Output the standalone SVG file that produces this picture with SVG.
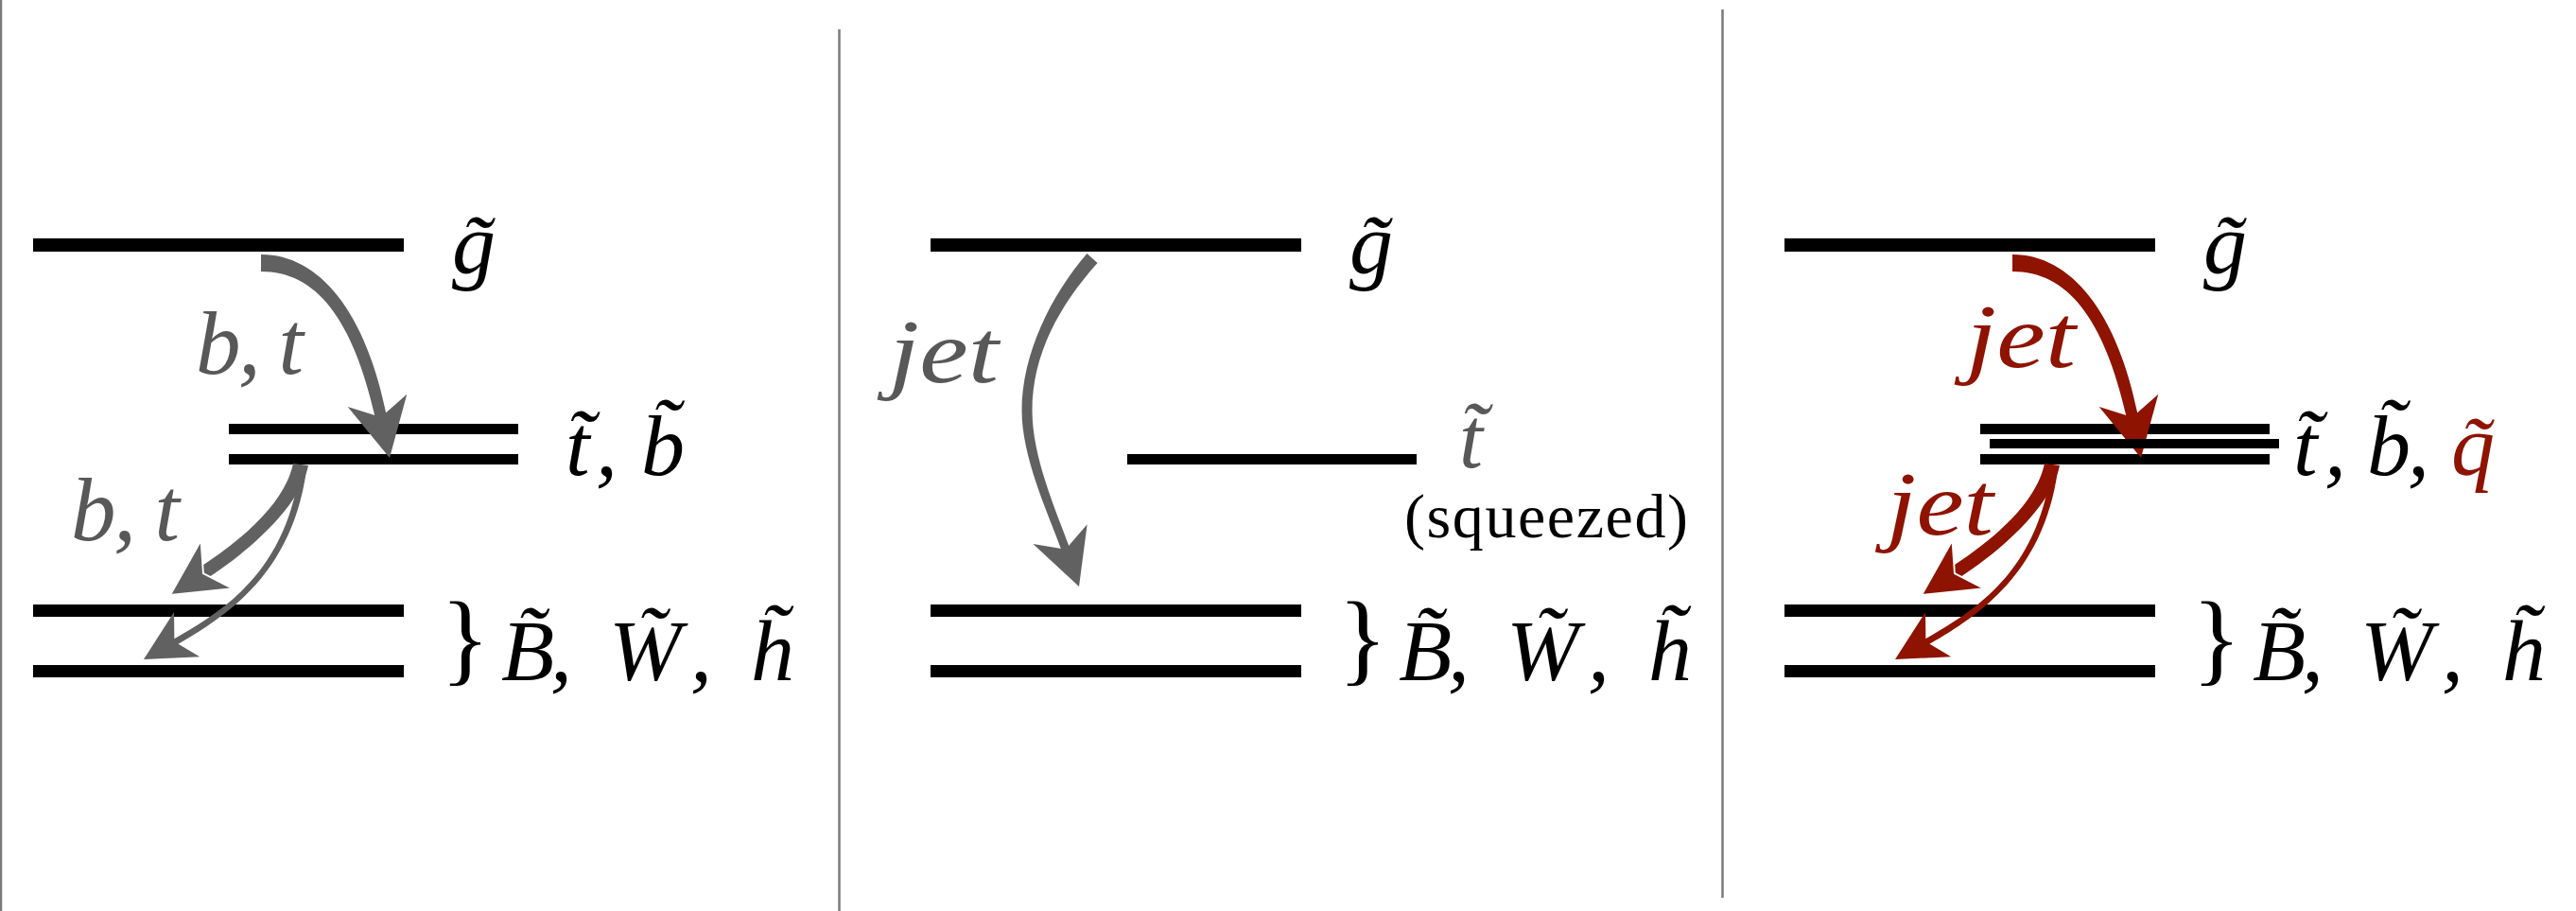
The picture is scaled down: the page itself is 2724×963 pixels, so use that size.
<svg xmlns="http://www.w3.org/2000/svg" width="2724" height="963" viewBox="0 0 2724 963">
<style>
.lv{fill:#000}
.div{stroke:#7a7a7a;stroke-width:2.5}
.m{font-family:'Liberation Serif',serif;font-style:italic;font-size:92px;fill:#000}
.br{font-family:'Liberation Serif',serif;font-size:108px;fill:#000}
.gl{font-family:'Liberation Serif',serif;font-style:italic;font-size:95px;fill:#585858}
.rl{font-family:'Liberation Serif',serif;font-style:italic;font-size:95px;fill:#8e1300}
.gray{fill:#616161}
.red{fill:#8e1300}
.sq{font-family:'Liberation Serif',serif;font-size:66px;fill:#000}
</style>
<defs>
<path id="head" d="M0,0 L-62,-32 L-44,0 L-62,32 Z"/>
</defs>
<rect width="2724" height="963" fill="#fff"/>
<g id="dividers">
<line class="div" x1="1" y1="0" x2="1" y2="963"/>
<line class="div" x1="887.5" y1="31" x2="887.5" y2="963"/>
<line class="div" x1="1821.5" y1="10" x2="1821.5" y2="949"/>
</g>

<g id="panel1">
<g id="p1-gluino"><rect class="lv" x="35" y="252" width="392" height="14"/>
<text class="m" x="478" y="289">g̃</text></g>
<g id="p1-stop"><rect class="lv" x="242" y="448" width="306" height="11"/><rect class="lv" x="242" y="480" width="306" height="11"/>
<text class="m" y="502"><tspan x="598">t̃</tspan><tspan x="630">,</tspan><tspan x="678">b̃</tspan></text></g>
<g id="p1-ewk"><rect class="lv" x="35" y="639" width="392" height="13"/><rect class="lv" x="35" y="703" width="392" height="13"/>
<text class="br" x="466" y="711">}</text>
<text class="m" y="719"><tspan x="530">B̃</tspan><tspan x="582">,</tspan><tspan x="644">W̃</tspan><tspan x="730">,</tspan><tspan x="794">h̃</tspan></text></g>
</g>

<g id="panel2">
<g id="p2-gluino"><rect class="lv" x="984" y="252" width="392" height="14"/>
<text class="m" x="1427" y="289">g̃</text></g>
<g id="p2-stop"><rect class="lv" x="1192" y="480" width="306" height="11"/>
<text class="gl" x="1543" y="494" style="font-size:90px">t̃</text>
<text class="sq" x="1485" y="568" textLength="300">(squeezed)</text></g>
<g id="p2-ewk"><rect class="lv" x="984" y="639" width="392" height="13"/><rect class="lv" x="984" y="703" width="392" height="13"/>
<text class="br" x="1415" y="711">}</text>
<text class="m" y="719"><tspan x="1479">B̃</tspan><tspan x="1531">,</tspan><tspan x="1593">W̃</tspan><tspan x="1679">,</tspan><tspan x="1743">h̃</tspan></text></g>
</g>

<g id="panel3">
<g id="p3-gluino"><rect class="lv" x="1887" y="252" width="392" height="14"/>
<text class="m" x="2330" y="289">g̃</text></g>
<g id="p3-squarks"><rect class="lv" x="2094" y="448" width="306" height="11"/><rect class="lv" x="2094" y="480" width="306" height="11"/>
<text class="m" y="502"><tspan x="2425">t̃</tspan><tspan x="2458">,</tspan><tspan x="2503">b̃</tspan><tspan x="2546">,</tspan><tspan x="2592" style="fill:#8e1300">q̃</tspan></text></g>
<g id="p3-ewk"><rect class="lv" x="1887" y="639" width="392" height="13"/><rect class="lv" x="1887" y="703" width="392" height="13"/>
<text class="br" x="2318" y="711">}</text>
<text class="m" y="719"><tspan x="2382">B̃</tspan><tspan x="2434">,</tspan><tspan x="2496">W̃</tspan><tspan x="2582">,</tspan><tspan x="2646">h̃</tspan></text></g>
</g>

<g id="connectors">
<g id="p1-arrows" class="gray">
<path d="M276,269 C338,269 387,330 409,440 L397,442 C373,336 334,287 276,287 Z"/>
<use href="#head" transform="translate(412,484) rotate(77.9)"/>
<path d="M316.5,499.5 C300,608.5 233.3,647 181.3,677 L184.7,683 C236.7,653 307,609.5 323.5,500.5 Z"/>
<use href="#head" transform="translate(152,697) rotate(150) scale(0.85)"/>
<path d="M310,490 C301,534 251,574 209,601 L218,612 C260,585 317,537 326,492 Z"/>
<use href="#head" transform="translate(180,629) rotate(146.7) scale(0.95)" stroke="#fff" stroke-width="2"/>
</g>
<g id="p2-arrow" class="gray">
<path d="M1149.5,268 C1112,311 1080.5,374 1080.5,434 C1080.5,484 1109.2,544.9 1122.8,582.5 L1131.2,579.5 C1117.6,541.9 1091.5,484 1091.5,434 C1091.5,374 1121,322 1160.5,278 Z"/>
<use href="#head" transform="translate(1141,620) rotate(70.2) scale(0.95)"/>
</g>
<g id="p3-arrows" class="red" transform="translate(1852,0)">
<path d="M276,269 C338,269 387,330 409,440 L397,442 C373,336 334,287 276,287 Z"/>
<use href="#head" transform="translate(412,484) rotate(77.9)"/>
<path d="M316.5,499.5 C300,608.5 233.3,647 181.3,677 L184.7,683 C236.7,653 307,609.5 323.5,500.5 Z"/>
<use href="#head" transform="translate(152,697) rotate(150) scale(0.85)"/>
<path d="M310,490 C301,534 251,574 209,601 L218,612 C260,585 317,537 326,492 Z"/>
<use href="#head" transform="translate(180,629) rotate(146.7) scale(0.95)" stroke="#fff" stroke-width="2"/>
</g>
<text class="gl" x="207" y="395" textLength="114">b, t</text>
<text class="gl" x="75" y="571" textLength="115">b, t</text>
<text class="gl" x="940" y="404" textLength="116" lengthAdjust="spacingAndGlyphs">jet</text>
<text class="rl" x="2079" y="388" textLength="116" lengthAdjust="spacingAndGlyphs">jet</text>
<text class="rl" x="1995" y="565" textLength="113" lengthAdjust="spacingAndGlyphs">jet</text>
</g>
<rect id="p3-mid-level" class="lv" x="2104" y="464" width="306" height="10"/>
</svg>
